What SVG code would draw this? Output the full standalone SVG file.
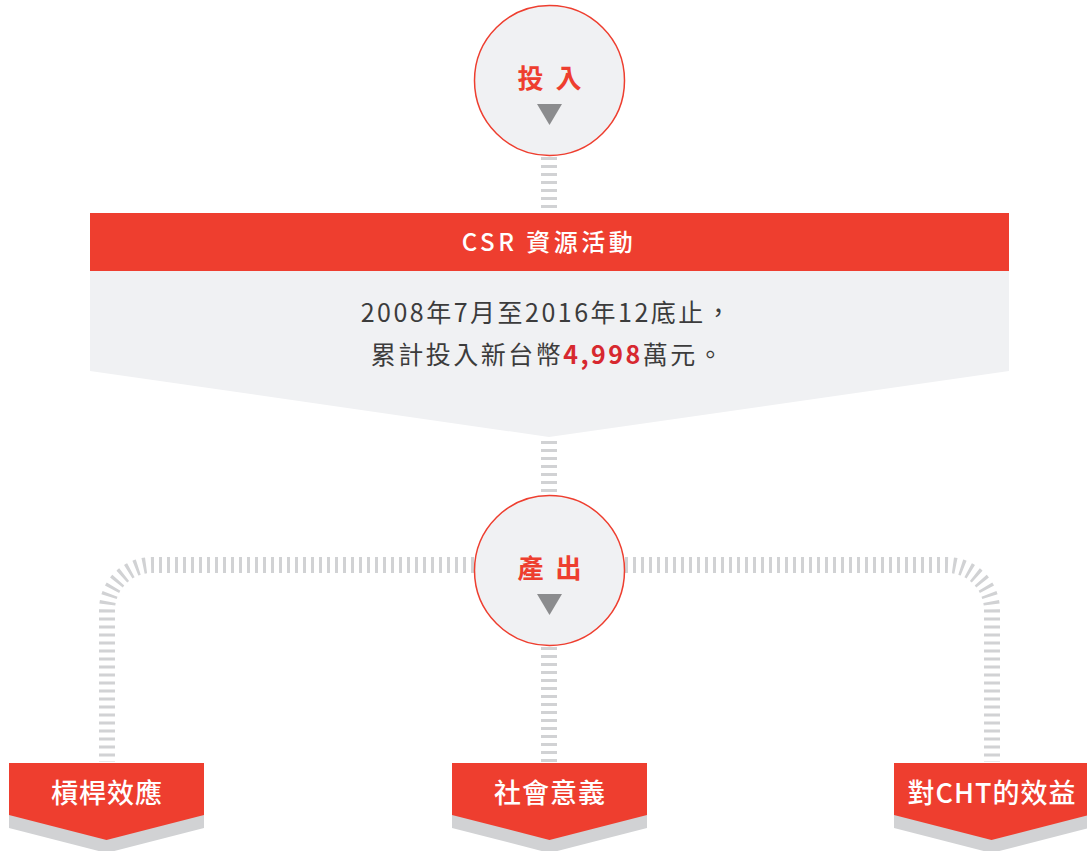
<svg xmlns="http://www.w3.org/2000/svg" width="1087" height="851" viewBox="0 0 1087 851">
<style>
.dash{fill:none;stroke:#d1d2d4;stroke-width:16;stroke-dasharray:3 5}
.circ{fill:#f0f1f3;stroke:#ee3e2f;stroke-width:1.5}
.tri{fill:#8b8c8e}
.ctext{font-family:"Noto Sans CJK TC","Noto Sans CJK SC",sans-serif;font-size:26px;font-weight:bold;fill:#ee3e2f;text-anchor:middle;letter-spacing:3px}
.tag{fill:#ee3e2f}
.tagsh{fill:#d1d2d4}
.ttext{font-family:"Noto Sans CJK TC","Noto Sans CJK SC",sans-serif;font-size:27px;font-weight:500;fill:#ffffff;text-anchor:middle;letter-spacing:1px}
.body{font-family:"Noto Sans CJK TC","Noto Sans CJK SC",sans-serif;font-size:25px;fill:#3c3c3c;text-anchor:middle;letter-spacing:2.5px}
</style>
<rect width="1087" height="851" fill="#ffffff"/>
<g id="connectors">
<path class="dash" d="M549 157 V212"/>
<path class="dash" d="M549 441 V494"/>
<path class="dash" d="M474 565 H152 A45 45 0 0 0 107 610 V762"/>
<path class="dash" d="M625 565 H947 A45 45 0 0 1 992 610 V762"/>
<path class="dash" d="M549 647 V762"/>
</g>
<g id="input">
<circle class="circ" cx="549.5" cy="80.5" r="75"/>
<text class="ctext" x="551" y="88">投 入</text>
<polygon class="tri" points="537,104 562,104 549.5,125"/>
</g>
<g id="csr">
<polygon fill="#f0f1f3" points="90,271 1009,271 1009,371 549,437 90,371"/>
<rect x="90" y="213" width="919" height="58" fill="#ee3e2f"/>
<text x="549" y="251" font-family="'Noto Sans CJK TC','Noto Sans CJK SC',sans-serif" font-size="24" font-weight="500" fill="#ffffff" text-anchor="middle" letter-spacing="3.5">CSR 資源活動</text>
<text class="body" x="547" y="322">2008年7月至2016年12底止，</text>
<text class="body" x="548" y="364">累計投入新台幣<tspan fill="#d7282f" font-weight="bold">4,998</tspan>萬元。</text>
</g>
<g id="output">
<circle class="circ" cx="549.5" cy="570.5" r="75"/>
<text class="ctext" x="551" y="578">產 出</text>
<polygon class="tri" points="537,594 562,594 549.5,615"/>
</g>
<g id="leverage">
<polygon class="tagsh" points="9,776 204,776 204,828 106.5,853 9,828"/>
<polygon class="tag" points="9,763 204,763 204,815 106.5,840 9,815"/>
<text class="ttext" x="107" y="803">槓桿效應</text>
</g>
<g id="social">
<polygon class="tagsh" points="452,776 647,776 647,828 549.5,853 452,828"/>
<polygon class="tag" points="452,763 647,763 647,815 549.5,840 452,815"/>
<text class="ttext" x="550" y="803">社會意義</text>
</g>
<g id="cht">
<polygon class="tagsh" points="894,776 1089,776 1089,828 991.5,853 894,828"/>
<polygon class="tag" points="894,763 1089,763 1089,815 991.5,840 894,815"/>
<text class="ttext" x="992" y="803" letter-spacing="0">對CHT的效益</text>
</g>
</svg>
